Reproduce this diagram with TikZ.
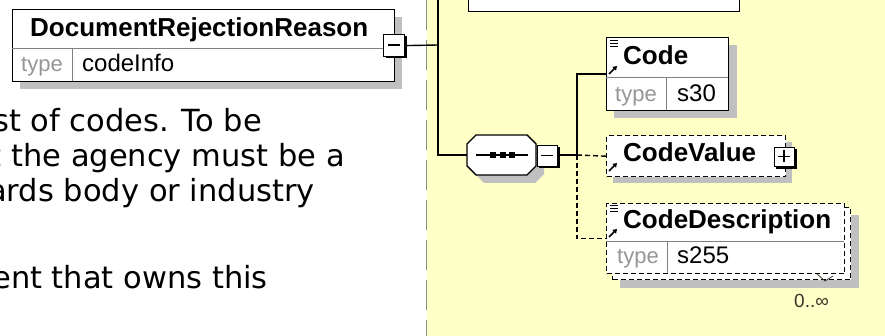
\documentclass[tikz,border=0pt]{standalone}
\usepackage{fontspec}
\setmainfont{Liberation Sans}
\newfontfamily\verd{DejaVu Sans}
\usetikzlibrary{arrows.meta}
\definecolor{bgyel}{RGB}{255,255,200}
\definecolor{shd}{RGB}{192,192,192}
\definecolor{typegray}{RGB}{150,150,150}
\definecolor{divgray}{RGB}{128,128,128}
\definecolor{sepgray}{RGB}{140,140,140}
\definecolor{cardcol}{RGB}{60,50,40}
\newcommand\myListIco[2]{\draw[line width=0.9pt] (#1,#2) -- ++(8,0) (#1,#2+3) -- ++(8,0) (#1,#2+6) -- ++(8,0);}
\newcommand\myRefIco[2]{\draw[line width=1.6pt,-{Triangle[length=4pt,width=5pt]}] (#1,#2) -- ++(8,-8);}
\tikzset{
 conn/.style={line width=1.4pt, draw=black},
 dconn/.style={conn, dash pattern=on 5pt off 3pt},
 ebox/.style={draw=black, fill=white, line width=1.4pt, inner sep=0pt, anchor=north west},
 dbox/.style={ebox, dash pattern=on 5pt off 3pt},
 divline/.style={draw=divgray, line width=1pt},
 ttl/.style={anchor=base west, inner sep=0pt, font=\bfseries\fontsize{26}{30}\selectfont},
 typelbl/.style={anchor=base west, inner sep=0pt, text=typegray, font=\fontsize{22}{26}\selectfont},
 typeval/.style={anchor=base west, inner sep=0pt, font=\fontsize{24}{28}\selectfont},
 body/.style={anchor=base east, inner sep=0pt, font=\verd\fontsize{30.5}{36}\selectfont},
 btn/.style={draw=black, fill=white, line width=1.2pt, inner sep=0pt, anchor=north west},
}
\begin{document}
\begin{tikzpicture}[x=1pt,y=-1pt]
\useasboundingbox (0,0) rectangle (885,336);
% backgrounds
\fill[bgyel] (427,0) rectangle (885,336);
\draw[sepgray, line width=1.2pt, dash pattern=on 30pt off 10pt] (426.5,0) -- (426.5,336);

% body text (clipped on the left)
\node[body] (t1) at (262,132) {st of codes. To be};
\node[body] (t2) at (345,167) {st the agency must be a};
\node[body] (t3) at (315,202) {ards body or industry};
\node[body] (t4) at (268,288) {ent that owns this};

% DocumentRejectionReason box
\fill[shd] (20,17) rectangle (402,89);
\node[ebox, minimum width=382pt, minimum height=72pt] (drr) at (12,9) {};
\draw[divline] (12,49) -- (394,49);
\draw[divline] (72,49) -- (72,81);
\node[ttl] (drrname) at (30,37) {DocumentRejectionReason};
\node[typelbl] (drrtype) at (21,72) {type};
\node[typeval] (drrval) at (82,72) {codeInfo};
% minus button
\fill[black] (385.5,36.5) rectangle (406.5,58.5);
\node[btn, minimum width=21pt, minimum height=22pt] (drrminus) at (383,34) {};
\draw[line width=1.2pt] (388,45) -- (400,45);

% top (cut) box in yellow area
\node[ebox, minimum width=271pt, minimum height=20pt] (topbox) at (468,-9) {};

% sequence compositor
\fill[shd] (484,143) -- (535,143) -- (544,152) -- (544,174) -- (535,183) -- (484,183) -- (475,174) -- (475,152) -- cycle;
\node[inner sep=0pt, minimum width=69pt, minimum height=40pt] (seq) at (501.5,155) {};
\draw[line width=1.4pt, fill=white] (476,135) -- (527,135) -- (536,144) -- (536,166) -- (527,175) -- (476,175) -- (467,166) -- (467,144) -- cycle;
\draw[line width=1.3pt] (476,155) -- (528,155);
\fill (490,152) rectangle (496,158);
\fill (499.5,152) rectangle (505.5,158);
\fill (509,152) rectangle (515,158);
\fill[black] (539,147) rectangle (559.5,168);
\node[btn, minimum width=20pt, minimum height=21pt] (seqminus) at (537,145) {};
\draw[line width=1.2pt] (541,155.5) -- (553,155.5);

% connectors
\coordinate (topend) at (438,-2);
\coordinate (j1) at (438,45);
\coordinate (j2) at (577,155);
\draw[conn] (drrminus.east) -- (j1);
\draw[conn] (topend) |- (seq.west);
\draw[conn] (seqminus.east |- j2) -- (j2);

% Code element
\fill[shd] (614,45) rectangle (737,118);
\node[ebox, minimum width=122pt, minimum height=73pt] (code) at (606,37) {};
\draw[divline] (606,78) -- (728,78);
\draw[divline] (666,78) -- (666,110);
\node[ttl] (codename) at (623,65) {Code};
\node[typelbl] (codetype) at (615,102) {type};
\node[typeval] (codeval) at (677,102) {s30};
\myListIco{610}{40}
\myRefIco{609}{74}

% CodeValue element
\fill[shd] (613,142) rectangle (792,183);
\node[dbox, minimum width=179pt, minimum height=41pt] (cval) at (606,135) {};
\node[ttl] (cvalname) at (623,162) {CodeValue};
\myRefIco{609}{171}
\fill[black] (776,149) rectangle (797,169);
\node[btn, minimum width=20pt, minimum height=19pt] (cvalplus) at (774,147) {};
\draw[line width=1.2pt] (778,156.5) -- (790,156.5) (784,150.5) -- (784,162.5);

% CodeDescription element (0..unbounded)
\fill[shd] (620,215) rectangle (859,288);
\node[dbox, minimum width=238pt, minimum height=72pt] (cdescback) at (612,207) {};
\node[dbox, minimum width=238pt, minimum height=70pt] (cdesc) at (606,203) {};
\draw[divline] (606,242) -- (844,242);
\draw[divline] (667,242) -- (667,273);
\node[ttl] (cdescname) at (623,229) {CodeDescription};
\node[typelbl] (cdesctype) at (617,264) {type};
\node[typeval] (cdescval) at (677,264) {s255};
\myListIco{610}{205}
\myRefIco{609}{237}
\draw[cardcol, line width=0.8pt] (817,274) -- (825,281) -- (833,276);
\node[anchor=base west, inner sep=0pt, text=cardcol, font=\fontsize{19}{22}\selectfont] (card) at (794,308) {0..∞};

\draw[conn] (j2) |- (code.west);
\draw[dconn] (j2) -- (cval.west);
\draw[dconn] (j2) |- (cdesc.west);
\end{tikzpicture}
\end{document}
